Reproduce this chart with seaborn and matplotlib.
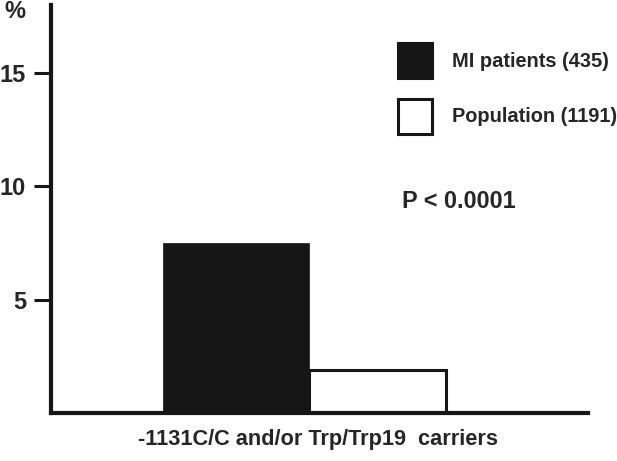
import matplotlib
matplotlib.use("Agg")
import matplotlib.pyplot as plt
import seaborn as sns
import pandas as pd

# data
category = ["-1131C/C and/or Trp/Trp19  carriers"]
groups = ["MI patients (435)", "Population (1191)"]
percent = [7.5, 1.9]
y_ticks = [5, 10, 15]

df = pd.DataFrame({"carrier": category * len(groups), "group": groups, "pct": percent})

sns.set_style("white")
plt.rcParams["font.family"] = ["Liberation Sans", "DejaVu Sans"]
plt.rcParams["font.weight"] = "bold"

ink = "#161616"
fig = plt.figure(figsize=(6.17, 4.61), dpi=100)
ax = fig.add_axes([51 / 617, 48 / 461, 537 / 617, 408 / 461])

sns.barplot(data=df, x="carrier", y="pct", hue="group", palette=[ink, "white"],
            width=0.826, saturation=1, edgecolor=ink, linewidth=2.2, ax=ax)
black_bar, white_bar = ax.patches[:2]
black_bar.set_linewidth(0.5)
# the population bar is a touch narrower in the original
white_bar.set_width(white_bar.get_width() * 0.94)

ax.set_xlim(-0.729, 0.789)
ax.set_ylim(0, 18)
ax.set_yticks(y_ticks)
ax.set_yticklabels([str(t) for t in y_ticks], fontsize=17, fontweight="bold")
ax.tick_params(axis="y", direction="out", length=12, width=2.2, color=ink, pad=6, left=True)
ax.set_xticks([])
ax.set_ylabel("")
ax.set_xlabel(category[0], fontsize=15.7, fontweight="bold")
ax.xaxis.set_label_coords((318 - 51) / 537, -0.04)
ax.xaxis.label.set_verticalalignment("top")

sns.despine(ax=ax)
for side in ["left", "bottom"]:
    ax.spines[side].set_linewidth(3)
    ax.spines[side].set_color(ink)

fig.text(15 / 617, 1 - 12 / 461, "%", fontsize=17, fontweight="bold", ha="center", va="center")
fig.text(402 / 617, 1 - 202 / 461, "P < 0.0001", fontsize=16.8, fontweight="bold", ha="left", va="center")

handles, labels = ax.get_legend_handles_labels()
ax.legend(handles, labels, loc="upper left", bbox_to_anchor=(398 / 617, 1 - 43 / 461),
          bbox_transform=fig.transFigure, frameon=False, fontsize=14.4,
          handlelength=1.7, handleheight=2.3, handletextpad=1.0, labelspacing=1.05,
          borderpad=0, borderaxespad=0)

fig.savefig("out.png", dpi=100)
